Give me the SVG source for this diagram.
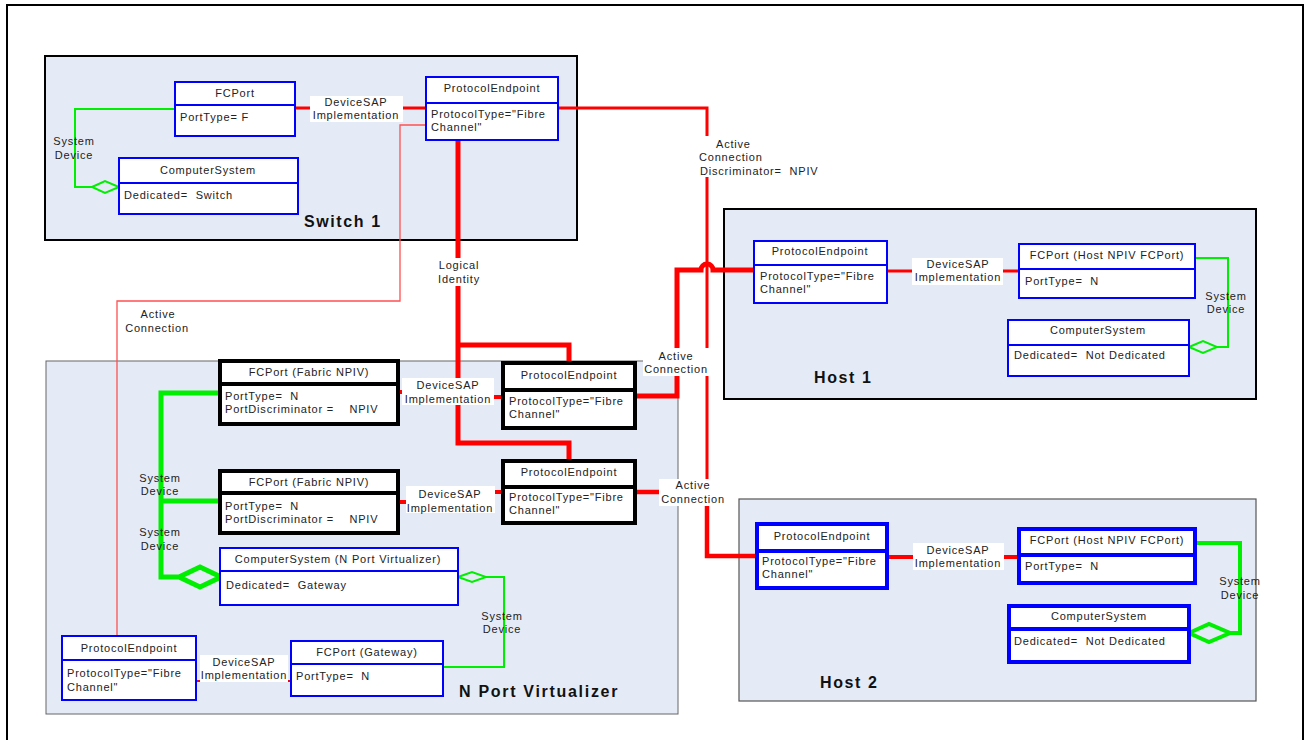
<svg xmlns="http://www.w3.org/2000/svg" width="1308" height="740" viewBox="0 0 1308 740">
<style>
text{font-family:"Liberation Sans",Arial,sans-serif;font-size:11px;fill:#222;letter-spacing:0.8px;white-space:pre}
.t{text-anchor:middle}
.b{font-weight:bold;font-size:16px;letter-spacing:1.6px;fill:#111}
.cont{fill:#E5EBF6}
.box{fill:#fff;stroke:#0000FF;stroke-width:2}
.bx4{fill:#fff;stroke:#0000FF;stroke-width:4}
.bk{fill:#fff;stroke:#000;stroke-width:4}
.r{fill:none;stroke:#FF0000}
.g{fill:none;stroke:#00EE00}
.lbl{fill:#fff}
</style>
<rect x="7" y="5" width="1296" height="745" fill="#fff" stroke="#000" stroke-width="2"/>
<g id="containers">
<rect id="switch1" class="cont" x="45" y="56" width="532" height="184" stroke="#000" stroke-width="2"/>
<rect id="npv" class="cont" x="46" y="361" width="632" height="353" stroke="#666" stroke-width="1"/>
<rect id="host1" class="cont" x="724" y="209" width="532" height="190" stroke="#000" stroke-width="2"/>
<rect id="host2" class="cont" x="739" y="499" width="517" height="202" stroke="#555" stroke-width="1.2"/>
</g>
<g id="connectors">
<path class="r" stroke-width="3" d="M558,108 H707 V556 H757"/>
<path class="r" stroke-width="4.5" d="M635,492 H707 V556 H757"/>
<path class="r" stroke-width="5" d="M635,396 H677 V270 H701 A6,6 0 0 1 713,270 H754"/>
<path class="r" stroke-width="5" d="M458,140 V443 H569 V461 M458,345 H569 V363"/>
<path fill="none" stroke="#FF5050" stroke-width="1.3" d="M426,125 H400 V301 H117 V636"/>
<path class="r" stroke-width="3" d="M295,108 H426"/>
<path class="r" stroke-width="4" d="M398,392 H448 V397 H503"/>
<path class="r" stroke-width="4" d="M398,502 H450 V492 H503"/>
<path class="r" stroke-width="2" d="M196,681 H291"/>
<path class="r" stroke-width="3" d="M887,271 H1019"/>
<path class="r" stroke-width="4" d="M887,557 H1019"/>
<path class="g" stroke-width="2" d="M175,109 H75 V187 H92 M92,187 L105,181 L119,187 L105,193 Z"/>
<path class="g" stroke-width="5" d="M220,393 H161 V577 H179 M220,501 H161 M179,577 L200,567 L221,577 L200,587 Z"/>
<path class="g" stroke-width="2" d="M443,667 H504 V577 H486 M458,577 L472,572 L486,577 L472,582 Z"/>
<path class="g" stroke-width="2" d="M1195,258 H1228 V347 H1217 M1189,347 L1203,341 L1217,347 L1203,353 Z"/>
<path class="g" stroke-width="4" d="M1195,543 H1240 V633 H1230 M1189,633 L1209,624 L1230,633 L1209,642 Z"/>
<rect class="lbl" x="310" y="96" width="93" height="26"/>
<text class="t" x="356" y="106">DeviceSAP</text><text class="t" x="356" y="119">Implementation</text>
<text class="t" x="74" y="145">System</text><text class="t" x="74" y="159">Device</text>
<rect class="lbl" x="697" y="136" width="123" height="41"/>
<text x="716" y="148">Active</text><text x="699" y="161">Connection</text><text x="700" y="175">Discriminator=  NPIV</text>
<rect class="lbl" x="436" y="258" width="46" height="28"/>
<text class="t" x="459" y="269">Logical</text><text class="t" x="459" y="283">Identity</text>
<text class="t" x="158" y="318">Active</text><text class="t" x="157" y="332">Connection</text>
<rect class="lbl" x="402" y="378" width="92" height="27"/>
<text class="t" x="448" y="389">DeviceSAP</text><text class="t" x="448" y="403">Implementation</text>
<rect class="lbl" x="406" y="486" width="89" height="27"/>
<text class="t" x="450" y="498">DeviceSAP</text><text class="t" x="450" y="512">Implementation</text>
<rect class="lbl" x="643" y="348" width="66" height="28"/>
<text class="t" x="676" y="360">Active</text><text class="t" x="676" y="373">Connection</text>
<rect class="lbl" x="659" y="479" width="68" height="27"/>
<text class="t" x="693" y="489">Active</text><text class="t" x="693" y="503">Connection</text>
<text class="t" x="160" y="482">System</text><text class="t" x="160" y="495">Device</text>
<text class="t" x="160" y="536">System</text><text class="t" x="160" y="550">Device</text>
<text class="t" x="502" y="620">System</text><text class="t" x="502" y="633">Device</text>
<rect class="lbl" x="200" y="655" width="88" height="27"/>
<text class="t" x="244" y="666">DeviceSAP</text><text class="t" x="244" y="679">Implementation</text>
<rect class="lbl" x="912" y="258" width="91" height="27"/>
<text class="t" x="958" y="268">DeviceSAP</text><text class="t" x="958" y="281">Implementation</text>
<text class="t" x="1226" y="300">System</text><text class="t" x="1226" y="313">Device</text>
<rect class="lbl" x="913" y="543" width="91" height="27"/>
<text class="t" x="958" y="554">DeviceSAP</text><text class="t" x="958" y="567">Implementation</text>
<text class="t" x="1240" y="585">System</text><text class="t" x="1240" y="599">Device</text>
</g>
<g id="sw-fcport"><rect class="box" x="175" y="82" width="120" height="54"/><path d="M175,105 H295" stroke="#0000FF" stroke-width="2"/>
<text class="t" x="235" y="97">FCPort</text><text x="180" y="121">PortType= F</text></g>
<g id="sw-cs"><rect class="box" x="119" y="158" width="179" height="56"/><path d="M119,183 H298" stroke="#0000FF" stroke-width="2"/>
<text class="t" x="208" y="174">ComputerSystem</text><text x="124" y="199">Dedicated=  Switch</text></g>
<g id="sw-pe"><rect class="box" x="426" y="77" width="132" height="63"/><path d="M426,103 H558" stroke="#0000FF" stroke-width="2"/>
<text class="t" x="492" y="92">ProtocolEndpoint</text><text x="431" y="118">ProtocolType="Fibre</text><text x="431" y="131">Channel"</text></g>
<text class="b" x="304" y="227">Switch 1</text>
<g id="npv-fc1"><rect class="bk" x="220" y="361" width="178" height="63"/><path d="M220,384 H398" stroke="#000" stroke-width="4"/>
<text class="t" x="309" y="376">FCPort (Fabric NPIV)</text><text x="225" y="400">PortType=  N</text><text x="225" y="413">PortDiscriminator =    NPIV</text></g>
<g id="npv-fc2"><rect class="bk" x="220" y="471" width="178" height="62"/><path d="M220,493 H398" stroke="#000" stroke-width="4"/>
<text class="t" x="309" y="486">FCPort (Fabric NPIV)</text><text x="225" y="510">PortType=  N</text><text x="225" y="523">PortDiscriminator =    NPIV</text></g>
<g id="npv-pe1"><rect class="bk" x="503" y="363" width="132" height="65"/><path d="M503,390 H635" stroke="#000" stroke-width="4"/>
<text class="t" x="569" y="379">ProtocolEndpoint</text><text x="509" y="405">ProtocolType="Fibre</text><text x="509" y="418">Channel"</text></g>
<g id="npv-pe2"><rect class="bk" x="503" y="461" width="132" height="62"/><path d="M503,487 H635" stroke="#000" stroke-width="4"/>
<text class="t" x="569" y="476">ProtocolEndpoint</text><text x="509" y="501">ProtocolType="Fibre</text><text x="509" y="514">Channel"</text></g>
<g id="npv-cs"><rect class="box" x="220" y="548" width="238" height="57"/><path d="M220,571 H458" stroke="#0000FF" stroke-width="2"/>
<text class="t" x="338" y="563">ComputerSystem (N Port Virtualizer)</text><text x="226" y="589">Dedicated=  Gateway</text></g>
<g id="npv-pe"><rect class="box" x="62" y="636" width="134" height="64"/><path d="M62,660 H196" stroke="#0000FF" stroke-width="2"/>
<text class="t" x="129" y="652">ProtocolEndpoint</text><text x="67" y="677">ProtocolType="Fibre</text><text x="67" y="691">Channel"</text></g>
<g id="npv-fcgw"><rect class="box" x="291" y="641" width="152" height="55"/><path d="M291,664 H443" stroke="#0000FF" stroke-width="2"/>
<text class="t" x="367" y="656">FCPort (Gateway)</text><text x="296" y="680">PortType=  N</text></g>
<text class="b" x="459" y="697" style="letter-spacing:1.7px">N Port Virtualizer</text>
<g id="h1-pe"><rect class="box" x="754" y="241" width="133" height="62"/><path d="M754,265 H887" stroke="#0000FF" stroke-width="2"/>
<text class="t" x="820" y="255">ProtocolEndpoint</text><text x="760" y="280">ProtocolType="Fibre</text><text x="760" y="293">Channel"</text></g>
<g id="h1-fc"><rect class="box" x="1019" y="244" width="176" height="54"/><path d="M1019,269 H1195" stroke="#0000FF" stroke-width="2"/>
<text class="t" x="1107" y="259">FCPort (Host NPIV FCPort)</text><text x="1025" y="285">PortType=  N</text></g>
<g id="h1-cs"><rect class="box" x="1008" y="320" width="181" height="56"/><path d="M1008,345 H1189" stroke="#0000FF" stroke-width="2"/>
<text class="t" x="1098" y="334">ComputerSystem</text><text x="1014" y="359">Dedicated=  Not Dedicated</text></g>
<text class="b" x="814" y="383">Host 1</text>
<g id="h2-pe"><rect class="bx4" x="757" y="524" width="130" height="64"/><path d="M757,551 H887" stroke="#0000FF" stroke-width="4"/>
<text class="t" x="822" y="540">ProtocolEndpoint</text><text x="762" y="565">ProtocolType="Fibre</text><text x="762" y="578">Channel"</text></g>
<g id="h2-fc"><rect class="bx4" x="1019" y="529" width="176" height="54"/><path d="M1019,555 H1195" stroke="#0000FF" stroke-width="4"/>
<text class="t" x="1107" y="544">FCPort (Host NPIV FCPort)</text><text x="1025" y="570">PortType=  N</text></g>
<g id="h2-cs"><rect class="bx4" x="1009" y="606" width="180" height="56"/><path d="M1009,629 H1189" stroke="#0000FF" stroke-width="4"/>
<text class="t" x="1099" y="620">ComputerSystem</text><text x="1014" y="645">Dedicated=  Not Dedicated</text></g>
<text class="b" x="820" y="688">Host 2</text>
</svg>
